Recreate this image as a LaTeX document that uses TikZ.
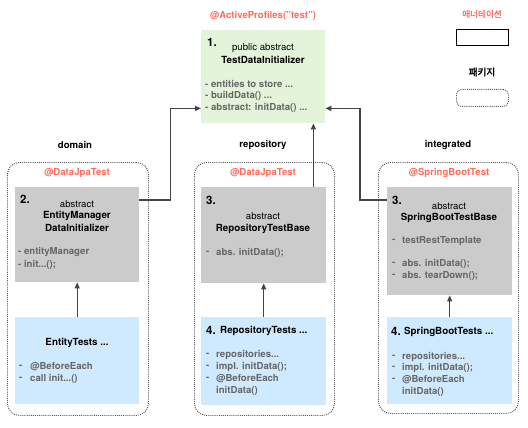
\documentclass[tikz,border=0pt]{standalone}
\usepackage{fontspec}
\setmainfont{TeX Gyre Heros}
\newfontfamily\krfont[FakeBold=1.2]{Noto Sans CJK KR}
\newfontfamily\krbold[FakeBold=2.5]{Noto Sans CJK KR}
\usetikzlibrary{arrows.meta,calc}
\definecolor{anno}{HTML}{FF6B5B}
\definecolor{topgreen}{HTML}{E3F4DA}
\definecolor{boxgray}{HTML}{CBCBCB}
\definecolor{boxblue}{HTML}{CFE9FE}
\definecolor{txtgray}{HTML}{666666}
\definecolor{lngray}{HTML}{444444}
\definecolor{pkggray}{HTML}{555555}
\begin{document}
\begin{tikzpicture}[x=1pt,y=-1pt,
  box/.style={draw=none,inner sep=0,anchor=north west},
  pkg/.style={draw=pkggray,line width=0.9pt,dash pattern=on 1pt off 1.1pt,rounded corners=12pt,inner sep=0,anchor=north west},
  t/.style={inner sep=0,font=\fontsize{9.6}{11}\selectfont},
  tb/.style={t,font=\bfseries\fontsize{9.8}{11}\selectfont},
  red/.style={inner sep=0,text=anno,font=\bfseries\fontsize{9.6}{11}\selectfont},
  lst/.style={inner sep=0,anchor=west,text=txtgray,font=\bfseries\fontsize{9.6}{11}\selectfont},
  num/.style={inner sep=0,anchor=west,font=\bfseries\fontsize{11.5}{13}\selectfont},
  pl/.style={inner sep=0,font=\bfseries\fontsize{9.6}{11}\selectfont},
  conn/.style={draw=lngray,line width=1.2pt,-{Triangle[length=6pt,width=5pt]}}]
\useasboundingbox (0,0) rectangle (528,428);
\fill[white] (0,0) rectangle (528,428);

% legend
\node[inner sep=0,text=anno,font=\krfont\fontsize{8.6}{10}\selectfont] (lgA) at (482,14) {애너테이션};
\node[box,draw=black,line width=1pt,minimum width=52,minimum height=16] (lgAbox) at (456,29) {};
\node[inner sep=0,font=\krbold\fontsize{9.6}{11}\selectfont] (lgP) at (482,72) {패키지};
\node[pkg,minimum width=52,minimum height=17,rounded corners=5pt] (lgPbox) at (456,89) {};

% top box
\node[red] (apt) at (263,16) {@ActiveProfiles("test")};
\node[box,fill=topgreen,minimum width=124,minimum height=93] (top) at (201,30) {};
\node[num] (n1) at (207,42) {1.};
\node[t] (top1) at (263,48) {public abstract};
\node[tb] (top2) at (263,60) {TestDataInitializer};
\node[lst] (top3) at (205,84) {- entities to store ...};
\node[lst] (top4) at (205,96) {- buildData() ...};
\node[lst] (top5) at (205,108) {- abstract: initData() ...};

% packages
\node[pl] (pdl) at (75,145) {domain};
\node[pl] (prl) at (263,145) {repository};
\node[pl] (pil) at (448,145) {integrated};
\node[pkg,minimum width=141,minimum height=253] (pd) at (7,162) {};
\node[pkg,minimum width=140,minimum height=253] (pr) at (194,162) {};
\node[pkg,minimum width=140,minimum height=251] (pi) at (378,162) {};
\node[red] (ad) at (77,173) {@DataJpaTest};
\node[red] (ar) at (263,173) {@DataJpaTest};
\node[red] (ai) at (449,173) {@SpringBootTest};

% gray boxes
\node[box,fill=boxgray,minimum width=124,minimum height=95] (g2) at (15,187) {};
\node[box,fill=boxgray,minimum width=125,minimum height=96] (g3r) at (201,187) {};
\node[box,fill=boxgray,minimum width=125,minimum height=108] (g3i) at (387,187) {};

\node[num] (n2) at (20,199) {2.};
\node[t] (g2a) at (77,204) {abstract};
\node[tb] (g2b) at (77,216) {EntityManager};
\node[tb] (g2c) at (77,228) {DataInitializer};
\node[lst] (g2d) at (18,252) {- entityManager};
\node[lst] (g2e) at (18,265) {- init...();};

\node[num] (n3r) at (206,200) {3.};
\node[t] (g3ra) at (263,216) {abstract};
\node[tb] (g3rb) at (263,229) {RepositoryTestBase};
\node[lst] (g3rc) at (206,253) {-};
\node[lst] (g3rd) at (216,253) {abs. initData();};

\node[num] (n3i) at (392,200) {3.};
\node[t] (g3ia) at (449,206) {abstract};
\node[tb] (g3ib) at (449,218) {SpringBootTestBase};
\node[lst] (g3ic) at (392,241) {-};
\node[lst] (g3id) at (402,241) {testRestTemplate};
\node[lst] (g3ie) at (392,264) {-};
\node[lst] (g3if) at (402,264) {abs. initData();};
\node[lst] (g3ig) at (392,276) {-};
\node[lst] (g3ih) at (402,276) {abs. tearDown();};

% blue boxes
\node[box,fill=boxblue,minimum width=124,minimum height=87] (b2) at (15,317) {};
\node[box,fill=boxblue,minimum width=125,minimum height=88] (b3r) at (201,317) {};
\node[box,fill=boxblue,minimum width=125,minimum height=87] (b3i) at (387,317) {};

\node[tb] (b2a) at (77,343) {EntityTests ...};
\node[lst] (b2b) at (19,367) {-};
\node[lst] (b2c) at (30,367) {@BeforeEach};
\node[lst] (b2d) at (19,379) {-};
\node[lst] (b2e) at (30,379) {call init...()};

\node[num] (n4r) at (206,330) {4.};
\node[tb,anchor=west] (b3ra) at (220,331) {RepositoryTests ...};
\node[lst] (b3rb) at (206,355) {-};
\node[lst] (b3rc) at (216,355) {repositories...};
\node[lst] (b3rd) at (206,367) {-};
\node[lst] (b3re) at (216,367) {impl. initData();};
\node[lst] (b3rf) at (206,379) {-};
\node[lst] (b3rg) at (216,379) {@BeforeEach};
\node[lst] (b3rh) at (216,391) {initData()};

\node[num] (n4i) at (391,331) {4.};
\node[tb,anchor=west] (b3ia) at (404,332) {SpringBootTests ...};
\node[lst] (b3ib) at (392,357) {-};
\node[lst] (b3ic) at (402,357) {repositories...};
\node[lst] (b3id) at (392,368) {-};
\node[lst] (b3ie) at (402,368) {impl. initData();};
\node[lst] (b3if) at (392,380) {-};
\node[lst] (b3ig) at (402,380) {@BeforeEach};
\node[lst] (b3ih) at (402,392) {initData()};

% connectors
\draw[conn] ($(g2.north east)+(0,13)$) -- ++(31,0) |- ($(top.south west)+(0,-15)$);
\draw[conn] ($(g3i.north west)+(0,13)$) -- ++(-27,0) |- ($(top.south east)+(0,-15)$);
\draw[conn] ($(g3r.north east)+(-13,0)$) -- ($(top.south east)+(-12,0)$);
\draw[conn] (b2.north) -- (g2.south);
\draw[conn] (b3r.north) -- (g3r.south);
\draw[conn] (b3i.north) -- (g3i.south);
\end{tikzpicture}
\end{document}
